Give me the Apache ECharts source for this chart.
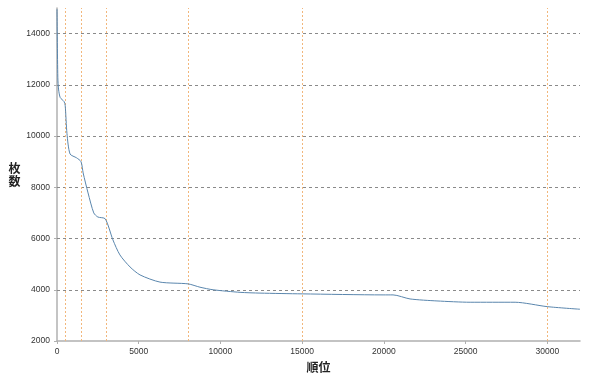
<!DOCTYPE html>
<html>
<head>
<meta charset="utf-8">
<script src="https://cdn.jsdelivr.net/npm/echarts@6/dist/echarts.min.js"></script>
<style>html,body{margin:0;padding:0;background:#fff}#c{width:600px;height:383px}</style>
</head>
<body>
<div id="c"></div>
<script>
var ranks  = [0, 50, 100, 200, 430, 500, 610, 800, 1200, 1470, 1600, 1900, 2250, 2500, 2950, 3420, 3850, 4470, 5080, 6300, 8020, 8750, 9550, 11200, 12420, 15000, 19950, 20560, 21600, 23250, 25280, 28030, 30000, 32000];
var counts = [14950, 12300, 11800, 11500, 11350, 11200, 10100, 9300, 9150, 9000, 8560, 7780, 7000, 6840, 6770, 5950, 5360, 4890, 4580, 4300, 4230, 4100, 4000, 3900, 3870, 3840, 3800, 3800, 3642, 3564, 3513, 3513, 3341, 3240];
var markRanks = [500, 1500, 3000, 8000, 15000, 30000];
var gridValues = [4000, 6000, 8000, 10000, 12000, 14000];
var xName = '順位';
var yName = '枚\n数';

var chart = echarts.init(document.getElementById('c'));
var pts = ranks.map(function (r, i) { return [r, counts[i]]; });
var orange = { color: '#f2b77c', type: [2, 2], width: 1, opacity: 1 };
var gray = { color: '#8a8a8a', type: [3, 3], width: 1, opacity: 1 };
chart.setOption({
  animation: false,
  grid: { left: 57, right: 20, top: 8, bottom: 42 },
  xAxis: {
    type: 'value', min: 0, max: 32000, interval: 5000,
    name: xName, nameLocation: 'middle', nameGap: 20,
    nameTextStyle: { fontFamily: 'Noto Sans CJK JP', fontSize: 12, fontWeight: 'bold', color: '#222' },
    axisLine: { show: true, lineStyle: { color: '#b0b0b0', width: 1.5 } },
    axisTick: { show: true, length: 3, lineStyle: { color: '#b0b0b0' } },
    axisLabel: { fontFamily: 'Liberation Sans', fontSize: 8.5, color: '#333', margin: 6, showMaxLabel: false,
      formatter: function (v) { return String(v); } },
    splitLine: { show: false }
  },
  yAxis: {
    type: 'value', min: 2000, max: 15000, interval: 2000,
    name: yName, nameLocation: 'middle', nameRotate: 0, nameGap: 34,
    nameTextStyle: { fontFamily: 'Noto Sans CJK JP', fontSize: 12, fontWeight: 'bold', color: '#222', lineHeight: 13 },
    axisLine: { show: true, lineStyle: { color: '#b0b0b0', width: 1.5 } },
    axisTick: { show: true, length: 3, lineStyle: { color: '#b0b0b0' } },
    axisLabel: { fontFamily: 'Liberation Sans', fontSize: 8.5, color: '#333', margin: 7, showMaxLabel: false,
      formatter: function (v) { return String(v); } },
    splitLine: { show: false }
  },
  series: [{
    type: 'line',
    data: [],
    silent: true,
    markLine: {
      silent: true, symbol: 'none', label: { show: false }, animation: false,
      lineStyle: gray,
      emphasis: { disabled: true },
      data: gridValues.map(function (v) { return { yAxis: v, lineStyle: gray }; })
    }
  }, {
    type: 'line',
    data: [],
    silent: true,
    markLine: {
      silent: true, symbol: 'none', label: { show: false }, animation: false,
      lineStyle: orange,
      emphasis: { disabled: true },
      data: markRanks.map(function (r) { return { xAxis: r, lineStyle: orange }; })
    }
  }, {
    type: 'line',
    data: pts,
    smooth: 0.25,
    showSymbol: false,
    z: 5,
    lineStyle: { color: '#5a86ad', width: 1 }
  }]
});
</script>
</body>
</html>
